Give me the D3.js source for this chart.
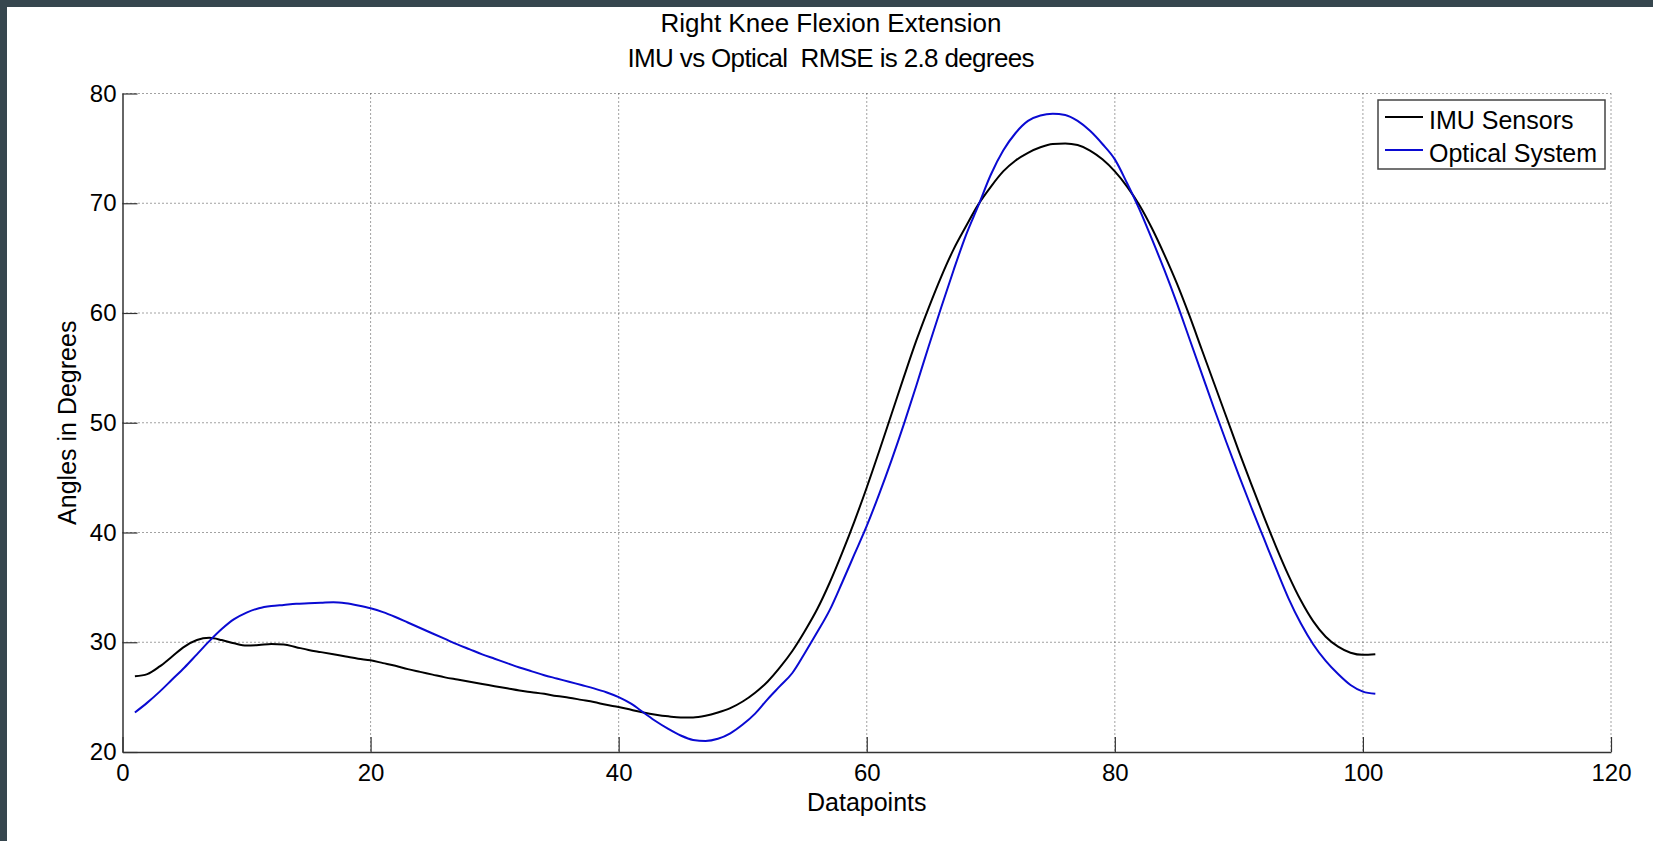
<!DOCTYPE html>
<html>
<head>
<meta charset="utf-8">
<script src="https://cdn.jsdelivr.net/npm/d3@7"></script>
<style>
  body { margin: 0; background: #ffffff; overflow: hidden; }
  svg { display: block; }
  text { font-family: "Liberation Sans", Arial, sans-serif; fill: #000; }
</style>
</head>
<body>
<div id="chart"></div>
<script>
// knee angle per datapoint (degrees)
const imuAngles = [
  26.9, 27.1, 27.8, 28.7, 29.6, 30.2, 30.4, 30.2, 29.9, 29.7,
  29.75, 29.85, 29.8, 29.55, 29.3, 29.1, 28.9, 28.7, 28.5, 28.35,
  28.1, 27.85, 27.55, 27.3, 27.05, 26.8, 26.6, 26.4, 26.2, 26.0,
  25.8, 25.6, 25.45, 25.3, 25.1, 24.95, 24.75, 24.55, 24.3, 24.1,
  23.85, 23.6, 23.4, 23.25, 23.15, 23.15, 23.3, 23.6, 24.0, 24.6,
  25.4, 26.4, 27.7, 29.2, 31.0, 33.0, 35.4, 38.1, 41.0, 44.1,
  47.4, 50.8, 54.2, 57.5, 60.5, 63.3, 65.8, 67.9, 69.9, 71.5,
  72.9, 73.9, 74.6, 75.1, 75.4, 75.45, 75.3, 74.8, 74.0, 72.9,
  71.5, 69.8, 67.7, 65.3, 62.7, 59.8, 56.7, 53.6, 50.5, 47.4,
  44.4, 41.5, 38.7, 36.1, 33.8, 31.9, 30.5, 29.6, 29.05, 28.85,
  28.9
];
const opticalAngles = [
  23.6, 24.5, 25.5, 26.6, 27.7, 28.9, 30.1, 31.2, 32.1, 32.7,
  33.1, 33.3, 33.4, 33.5, 33.55, 33.6, 33.65, 33.55, 33.35, 33.1,
  32.75, 32.3, 31.8, 31.3, 30.8, 30.3, 29.8, 29.35, 28.9, 28.5,
  28.1, 27.7, 27.35, 27.0, 26.7, 26.4, 26.1, 25.8, 25.45, 25.0,
  24.4, 23.6, 22.8, 22.1, 21.5, 21.1, 21.0, 21.2, 21.7, 22.5,
  23.5, 24.8, 26.0, 27.2, 29.0, 30.9, 32.9, 35.4, 38.0, 40.6,
  43.5, 46.6, 49.9, 53.4, 57.0, 60.5, 63.9, 67.1, 69.8, 72.6,
  74.8, 76.4, 77.5, 78.0, 78.15, 78.05, 77.5, 76.6, 75.4, 74.0,
  71.8, 69.4, 66.7, 63.9, 60.9, 57.7, 54.5, 51.3, 48.2, 45.2,
  42.3, 39.5, 36.7, 34.0, 31.7, 29.8, 28.3, 27.1, 26.1, 25.5,
  25.3
];
const xTicks = [0, 20, 40, 60, 80, 100, 120];
const yTicks = [20, 30, 40, 50, 60, 70, 80];
const seriesNames = ['IMU Sensors', 'Optical System'];
const seriesColors = ['#000000', '#0a0ad2'];
const titleLines = ['Right Knee Flexion Extension', 'IMU vs Optical  RMSE is 2.8 degrees'];

const W = 1653, H = 841;
const plot = { left: 122.5, right: 1611, top: 93.5, bottom: 752 };

const svg = d3.select('#chart').append('svg')
  .attr('width', W)
  .attr('height', H);

svg.append('rect').attr('width', W).attr('height', H).attr('fill', '#ffffff');
// dark frame strips along top and left edges
svg.append('rect').attr('x', 0).attr('y', 0).attr('width', W).attr('height', 7).attr('fill', '#36464e');
svg.append('rect').attr('x', 0).attr('y', 0).attr('width', 7).attr('height', H).attr('fill', '#36464e');

const x = d3.scaleLinear().domain([0, 120]).range([plot.left, plot.right]);
const y = d3.scaleLinear().domain([20, 80]).range([plot.bottom, plot.top]);

// dotted grid
const grid = svg.append('g').attr('class', 'grid');
grid.selectAll('line.vx')
  .data(xTicks.filter(t => t > 0))
  .enter().append('line')
  .attr('class', 'vx')
  .attr('x1', d => x(d)).attr('x2', d => x(d))
  .attr('y1', plot.top).attr('y2', plot.bottom)
  .attr('stroke', '#444').attr('stroke-width', 1)
  .attr('stroke-dasharray', '1,3');
grid.selectAll('line.hy')
  .data(yTicks.filter(t => t > 20))
  .enter().append('line')
  .attr('class', 'hy')
  .attr('x1', plot.left).attr('x2', plot.right)
  .attr('y1', d => y(d)).attr('y2', d => y(d))
  .attr('stroke', '#444').attr('stroke-width', 1)
  .attr('stroke-dasharray', '1,3');

// axes (box off, ticks inward)
const xAxis = svg.append('g')
  .attr('transform', `translate(0,${plot.bottom})`)
  .call(d3.axisBottom(x).tickValues(xTicks).tickSizeInner(-15).tickSizeOuter(0).tickPadding(12));
const yAxis = svg.append('g')
  .attr('transform', `translate(${plot.left},0)`)
  .call(d3.axisLeft(y).tickValues(yTicks).tickSizeInner(-15).tickSizeOuter(0).tickPadding(6));

[xAxis, yAxis].forEach(a => {
  a.select('.domain').attr('stroke', '#333').attr('stroke-width', 1.5);
  a.selectAll('.tick line').attr('stroke', '#333').attr('stroke-width', 1.2);
  a.selectAll('.tick text')
    .attr('font-size', '24px')
    .attr('font-family', '"Liberation Sans", Arial, sans-serif')
    .attr('fill', '#000');
});

// data lines
const line = d3.line()
  .x((d, i) => x(i + 1))
  .y(d => y(d))
  .curve(d3.curveMonotoneX);

[imuAngles, opticalAngles].forEach((vals, k) => {
  svg.append('path')
    .datum(vals)
    .attr('d', line)
    .attr('fill', 'none')
    .attr('stroke', seriesColors[k])
    .attr('stroke-width', 2)
    .attr('stroke-linejoin', 'round');
});

// titles (sit a little left of the axes centre, as in the figure)
const titleX = 831;
svg.append('text')
  .attr('x', titleX).attr('y', 32)
  .attr('text-anchor', 'middle')
  .attr('font-size', '26px')
  .text(titleLines[0]);
svg.append('text')
  .attr('x', titleX).attr('y', 67)
  .attr('text-anchor', 'middle')
  .attr('font-size', '26px')
  .attr('textLength', 407)
  .attr('lengthAdjust', 'spacing')
  .style('white-space', 'pre')
  .text(titleLines[1]);

svg.append('text')
  .attr('x', (plot.left + plot.right) / 2)
  .attr('y', 811)
  .attr('text-anchor', 'middle')
  .attr('font-size', '25px')
  .text('Datapoints');

svg.append('text')
  .attr('transform', `translate(76,${(plot.top + plot.bottom) / 2}) rotate(-90)`)
  .attr('text-anchor', 'middle')
  .attr('font-size', '25px')
  .text('Angles in Degrees');

// legend
const legend = svg.append('g').attr('transform', 'translate(1378,100)');
legend.append('rect')
  .attr('width', 227).attr('height', 69)
  .attr('fill', '#fff')
  .attr('stroke', '#444').attr('stroke-width', 1.5);
seriesNames.forEach((name, i) => {
  const ry = 17 + i * 33;
  legend.append('line')
    .attr('x1', 7).attr('x2', 45)
    .attr('y1', ry).attr('y2', ry)
    .attr('stroke', seriesColors[i]).attr('stroke-width', 2);
  legend.append('text')
    .attr('x', 51).attr('y', ry + 12)
    .attr('font-size', '25px')
    .text(name);
});
</script>
</body>
</html>
